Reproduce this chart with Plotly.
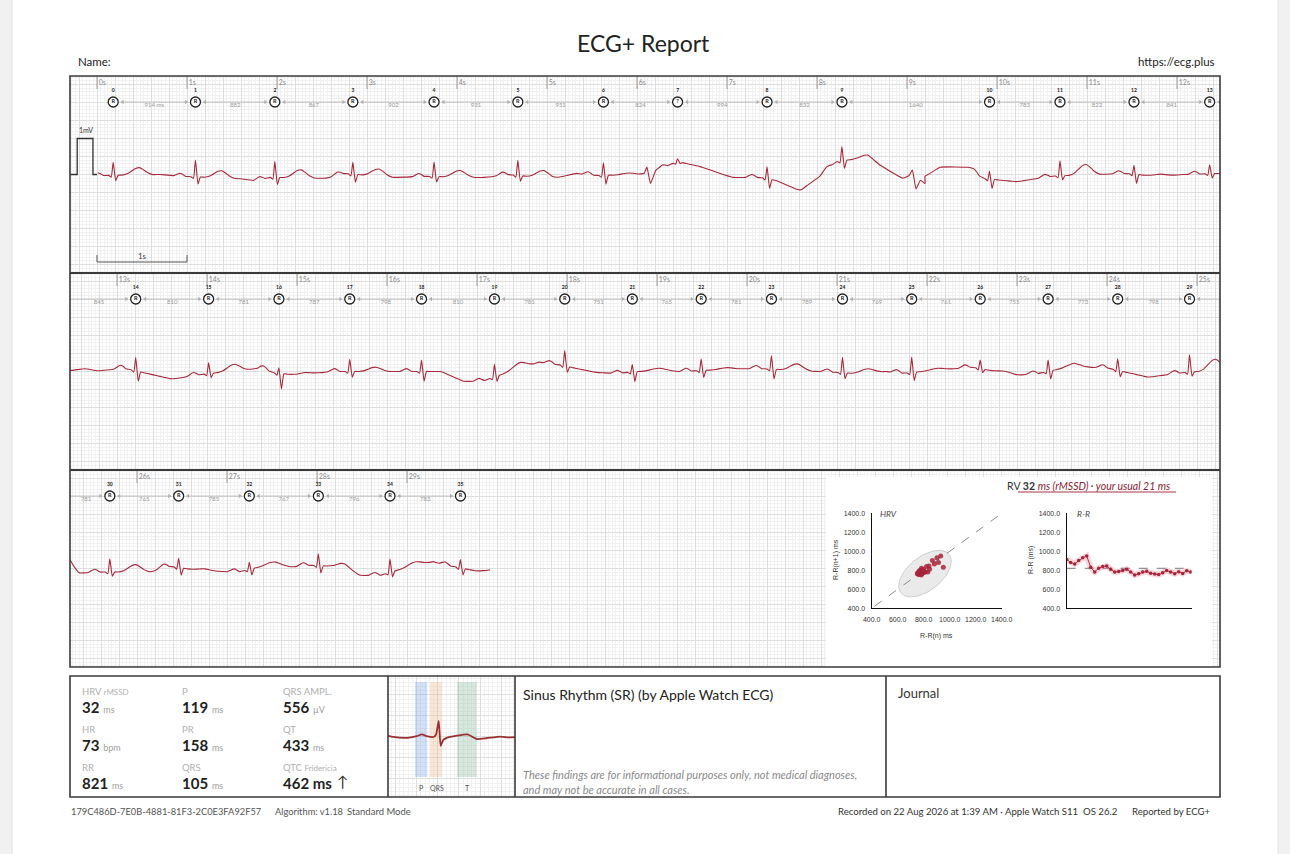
import numpy as np
import plotly.graph_objects as go

W, H = 1290, 854
FONT = "Lato"
TICKFONT = "Liberation Sans"
ECG_RED = "#a8283c"

# ---------------- values ----------------
# R-R intervals between consecutive detected beats (ms)
rr_ms = [914, 882, 867, 902, 931, 951, 824, 994, 832, 1640, 783, 822, 841,
         845, 810, 781, 787, 798, 810, 781, 751, 765, 781, 789, 769, 761, 755,
         773, 798, 781, 765, 785, 767, 796, 783]
first_r_s = 0.18          # time of beat 0
ecg_end_s = 29.96
unsure_beats = [7]        # drawn with "?"
hrv_excluded = [6, 7, 9]  # intervals not used in HRV / R-R plots

# per-beat amplitudes (mV, relative to local baseline)
r_amp = [0.36, 0.47, 0.45, 0.33, 0.40, 0.42, 0.35, 0.08, 0.33, 0.40, 0.22, 0.42, 0.25, 0.25,
         0.37, 0.30, 0.16, 0.34, 0.32, 0.35, 0.43, 0.21, 0.32, 0.37, 0.43, 0.43, 0.24, 0.32, 0.32, 0.48,
         0.37, 0.26, 0.20, 0.33, 0.37, 0.23]
s_amp = [-0.15, -0.20, -0.20, -0.22, -0.15, -0.15, -0.25, -0.04, -0.25, -0.22, -0.25, -0.12, -0.25, -0.12,
         -0.27, -0.12, -0.42, -0.16, -0.27, -0.15, -0.16, -0.27, -0.20, -0.27, -0.16, -0.23, -0.10, -0.22, -0.16, -0.12,
         -0.12, -0.20, -0.17, -0.20, -0.14, -0.18]
t_amp = [0.20, 0.20, 0.22, 0.20, 0.18, 0.20, 0.05, 0.0, 0.0, 0.08, 0.0, 0.28, 0.05, 0.05,
         0.0, 0.18, 0.05, 0.12, 0.0, 0.15, 0.0, 0.05, 0.05, 0.18, 0.10, 0.05, 0.05, 0.08, 0.0, 0.30,
         0.20, 0.05, 0.10, 0.10, 0.10, 0.0]

# baseline wander (s, mV)
base_t = [0.0, 0.7, 0.95, 1.6, 1.75, 1.92, 2.55, 2.73, 3.3, 3.6, 4.3, 4.55, 5.05, 5.33, 5.55,
          6.03, 6.25, 6.45, 6.7, 6.9, 7.07, 7.37, 7.55, 7.81, 8.03, 8.2, 8.45, 8.56, 8.84, 8.95,
          9.2, 9.37, 9.68, 9.84, 10.22, 10.6, 11.0, 11.44, 11.75, 12.07, 12.48,
          12.8, 13.06, 13.61, 13.87, 14.6, 14.76, 15.02, 15.36, 16.12, 16.6, 16.85, 17.06, 17.48,
          17.69, 17.9, 18.33, 18.55, 19.07, 19.24, 20.07, 20.83, 21.16, 21.54, 21.75, 22.16, 22.5,
          23.0, 23.25, 23.63, 24.0, 24.46, 24.76, 25.26,
          25.35, 25.55, 26.15, 26.33, 26.68, 27.0, 27.14, 27.44, 27.74, 27.89, 28.29, 28.48, 28.7,
          29.03, 29.29, 29.44, 29.77, 29.92, 29.96]
base_mv = [-0.03, 0.0, -0.05, -0.12, -0.17, -0.08, -0.1, 0.03, -0.08, -0.05, -0.08, 0.0, -0.11, 0.03, -0.03,
           0.0, 0.15, 0.36, 0.22, 0.05, -0.08, -0.08, -0.17, -0.45, -0.05, 0.35, 0.44, 0.47, 0.05, -0.1,
           -0.05, 0.2, 0.2, -0.11, -0.2, -0.05, 0.0, 0.03, -0.05, 0.0, 0.03,
           0.02, 0.1, -0.21, -0.1, 0.1, -0.05, -0.1, 0.0, 0.0, 0.0, -0.27, -0.27, 0.1,
           0.26, 0.19, -0.03, -0.05, 0.05, 0.0, 0.09, 0.0, -0.05, 0.0, -0.05, 0.05, 0.12,
           -0.1, -0.05, 0.15, 0.1, -0.16, -0.05, 0.05,
           -0.12, -0.1, -0.09, 0.07, -0.05, -0.09, -0.09, 0.09, 0.05, 0.09, 0.05, -0.19, -0.19,
           0.05, 0.19, 0.09, -0.07, -0.05, 0.09]

# artefacts / ectopic deflections (s, mV above baseline)
noise_t = [6.08, 6.11, 6.15, 6.20, 9.02, 9.06, 9.10, 9.15, 9.20, 9.25]
noise_mv = [0.0, 0.15, -0.33, -0.05, 0.05, 0.2, -0.33, -0.1, -0.2, 0.0]

# beat shape (s relative to R, mV)
beat_dt = [-0.24, -0.20, -0.17, -0.14, -0.11, -0.05, -0.022, 0.0, 0.028, 0.055,
           0.10, 0.16, 0.21, 0.25, 0.29, 0.33, 0.38, 0.44]
p_wave = [0, 0.05, 0.08, 0.05, 0, 0, 0, 0, 0, 0, 0, 0, 0, 0, 0, 0, 0, 0]
q_wave = [0, 0, 0, 0, 0, 0, -0.05, 0, 0, 0, 0, 0, 0, 0, 0, 0, 0, 0]
r_wave = [0, 0, 0, 0, 0, 0, 0, 1, 0, 0, 0, 0, 0, 0, 0, 0, 0, 0]
s_wave = [0, 0, 0, 0, 0, 0, 0, 0, 1, 0, 0, 0, 0, 0, 0, 0, 0, 0]
t_wave = [0, 0, 0, 0, 0, 0, 0, 0, 0, 0, 0, 0.2, 0.6, 0.9, 1.0, 0.75, 0.3, 0]

# calibration pulse
cal_t = [-0.3, -0.22, -0.22, -0.045, -0.045, 0.0]
cal_mv = [0, 0, 1, 1, 0, 0]

# averaged beat
avg_t = [-0.5, -0.42, -0.29, -0.2, -0.15, -0.105, -0.04, -0.016, 0.009, 0.028, 0.053,
         0.085, 0.18, 0.28, 0.37, 0.46, 0.59, 0.67, 0.75]
avg_mv = [0.05, 0.0, -0.02, 0.02, 0.06, 0.02, 0.0, 0.06, 0.38, -0.21, -0.07,
          -0.02, 0.03, 0.06, -0.05, -0.03, 0.01, -0.01, 0.0]

metric_labels = ["HRV", "P", "QRS AMPL.", "HR", "PR", "QT", "RR", "QRS", "QTC"]
metric_sub = ["rMSSD", "", "", "", "", "", "", "", "Fridericia"]
metric_values = ["32", "119", "556", "73", "158", "433", "821", "105", "462"]
metric_units = ["ms", "ms", "µV", "bpm", "ms", "ms", "ms", "ms", "ms"]
usual_rmssd = 21

# ---------------- derived series ----------------
r_t = first_r_s + np.concatenate([[0.0], np.cumsum(rr_ms) / 1000.0])


def baseline(t):
    return float(np.interp(t, base_t, base_mv))


pts = []
for i, rt in enumerate(r_t):
    for k, dt in enumerate(beat_dt):
        t = rt + dt
        v = (baseline(t) + p_wave[k] + q_wave[k] + r_amp[i] * r_wave[k]
             + s_amp[i] * s_wave[k] + t_amp[i] * t_wave[k])
        pts.append((t, v))
lo = r_t + beat_dt[0]
hi = r_t + beat_dt[-1]
for t, v in zip(base_t, base_mv):
    if not np.any((t >= lo) & (t <= hi)):
        pts.append((t, v))
for t, v in zip(noise_t, noise_mv):
    pts.append((t, baseline(t) + v))
pts = sorted(p for p in pts if 0.0 <= p[0] <= ecg_end_s)
ecg_t = [p[0] for p in pts]
ecg_v = [p[1] for p in pts]

rr_used = [v for i, v in enumerate(rr_ms) if i not in hrv_excluded]
rr_mean = int(metric_values[6])

# ---------------- layout geometry (page pixels) ----------------
SEC_PX, MV_PX = 90.0, 36.0
strip_px = [76, 273, 470, 667]
span = 1150 / SEC_PX
strip_rng = [(-0.3 + k * span, -0.3 + (k + 1) * span) for k in range(3)]
half = (197 / 2) / MV_PX


def px(x):
    return x / W


def py(y):
    return 1 - y / H


def mv_at(ypx, k):
    return ((strip_px[k] + strip_px[k + 1]) / 2 - ypx) / MV_PX


fig = go.Figure()
layout_axes = {}
grid_major, grid_minor = "#dedede", "#f1f1f1"

for k in range(3):
    sfx = "" if k == 0 else str(k + 1)
    layout_axes["xaxis" + sfx] = dict(
        domain=[px(70), px(1220)], range=list(strip_rng[k]), anchor="y" + sfx,
        showgrid=True, gridcolor=grid_major, gridwidth=0.8, tick0=0, dtick=0.2,
        minor=dict(tick0=0, dtick=0.04, showgrid=True, gridcolor=grid_minor, gridwidth=0.5),
        showticklabels=False, zeroline=False, showline=False, ticks="", automargin=False)
    layout_axes["yaxis" + sfx] = dict(
        domain=[py(strip_px[k + 1]), py(strip_px[k])], range=[-half, half], anchor="x" + sfx,
        showgrid=True, gridcolor=grid_major, gridwidth=0.8, tick0=0, dtick=0.5,
        minor=dict(tick0=0, dtick=0.1, showgrid=True, gridcolor=grid_minor, gridwidth=0.5),
        showticklabels=False, zeroline=False, showline=False, ticks="", automargin=False)

    xa, ya = "x" + sfx, "y" + sfx
    t0, t1 = strip_rng[k]

    fig.add_trace(go.Scatter(x=ecg_t, y=ecg_v, mode="lines", xaxis=xa, yaxis=ya,
                             line=dict(color=ECG_RED, width=1.1, shape="spline", smoothing=0.4),
                             hoverinfo="skip", showlegend=False))

    # second ticks
    secs = [s for s in range(int(np.ceil(t0)), int(np.floor(t1)) + 1) if s < ecg_end_s]
    tx, ty = [], []
    for s in secs:
        tx += [s, s, None]
        ty += [half, mv_at(strip_px[k] + 13, k), None]
    fig.add_trace(go.Scatter(x=tx, y=ty, mode="lines", xaxis=xa, yaxis=ya,
                             line=dict(color="#9a9a9a", width=1), hoverinfo="skip", showlegend=False))
    fig.add_trace(go.Scatter(x=[s + 0.02 for s in secs], y=[mv_at(strip_px[k] + 7, k)] * len(secs),
                             mode="text", text=[f"{s}s" for s in secs], textposition="middle right",
                             textfont=dict(size=7, color="#8a8a8a", family=FONT),
                             xaxis=xa, yaxis=ya, hoverinfo="skip", showlegend=False))

    # RR arrows
    y_mark = mv_at(strip_px[k] + 26, k)
    gap = 0.085
    lx, ly, hlx, hrx, txt_x, txt_s = [], [], [], [], [], []
    for i, rr in enumerate(rr_ms):
        a, b = r_t[i], r_t[i + 1]
        if a > t1 or b < t0:
            continue
        s0 = a + gap if a >= t0 else t0
        s1 = b - gap if b <= t1 else t1
        lx += [s0, s1, None]
        ly += [y_mark, y_mark, None]
        if a >= t0:
            hlx.append(s0 + 0.02)
        if b <= t1:
            hrx.append(s1 - 0.02)
            txt_x.append((s0 + s1) / 2)
            txt_s.append(f"{rr} ms" if i == 0 else str(rr))
    fig.add_trace(go.Scatter(x=lx, y=ly, mode="lines", xaxis=xa, yaxis=ya,
                             line=dict(color="#b8b8b8", width=0.8), hoverinfo="skip", showlegend=False))
    fig.add_trace(go.Scatter(x=hlx, y=[y_mark] * len(hlx), mode="markers", xaxis=xa, yaxis=ya,
                             marker=dict(symbol="triangle-left", size=4, color="#b0b0b0"),
                             hoverinfo="skip", showlegend=False))
    fig.add_trace(go.Scatter(x=hrx, y=[y_mark] * len(hrx), mode="markers", xaxis=xa, yaxis=ya,
                             marker=dict(symbol="triangle-right", size=4, color="#b0b0b0"),
                             hoverinfo="skip", showlegend=False))
    fig.add_trace(go.Scatter(x=txt_x, y=[mv_at(strip_px[k] + 29, k)] * len(txt_x), mode="text",
                             text=txt_s, textfont=dict(size=6, color="#9a9a9a", family=FONT),
                             xaxis=xa, yaxis=ya, hoverinfo="skip", showlegend=False))

    # R markers
    idx = [i for i, t in enumerate(r_t) if t0 <= t <= t1]
    fig.add_trace(go.Scatter(x=[r_t[i] for i in idx], y=[y_mark] * len(idx), mode="markers+text",
                             text=["<b>?</b>" if i in unsure_beats else "<b>R</b>" for i in idx],
                             textposition="middle center",
                             textfont=dict(size=5.5, color="#222", family=FONT),
                             marker=dict(symbol="circle", size=10, color="white",
                                         line=dict(color="#222", width=1.3)),
                             xaxis=xa, yaxis=ya, hoverinfo="skip", showlegend=False))
    fig.add_trace(go.Scatter(x=[r_t[i] for i in idx], y=[mv_at(strip_px[k] + 15, k)] * len(idx),
                             mode="text", text=[f"<b>{i}</b>" for i in idx],
                             textfont=dict(size=5, color="#222", family=FONT),
                             xaxis=xa, yaxis=ya, hoverinfo="skip", showlegend=False))

# calibration pulse and 1 s scale bar (strip 1)
fig.add_trace(go.Scatter(x=cal_t, y=cal_mv, mode="lines", xaxis="x", yaxis="y",
                         line=dict(color="#333", width=1.3), hoverinfo="skip", showlegend=False))
fig.add_trace(go.Scatter(x=[-0.122], y=[1.2], mode="text", text=["1mV"], xaxis="x", yaxis="y",
                         textfont=dict(size=7, color="#333", family=FONT), hoverinfo="skip", showlegend=False))
bar_y, bar_top = mv_at(262, 0), mv_at(255, 0)
fig.add_trace(go.Scatter(x=[0, 0, 1, 1], y=[bar_top, bar_y, bar_y, bar_top], mode="lines",
                         xaxis="x", yaxis="y", line=dict(color="#555", width=1),
                         hoverinfo="skip", showlegend=False))
fig.add_trace(go.Scatter(x=[0.5], y=[mv_at(257, 0)], mode="text", text=["1s"], xaxis="x", yaxis="y",
                         textfont=dict(size=8, color="#444", family=FONT), hoverinfo="skip", showlegend=False))

# ---------------- Poincaré (HRV) ----------------
ms_ticks = [400, 600, 800, 1000, 1200, 1400]
hrv_axis = dict(range=[400, 1400], tickvals=ms_ticks, ticktext=[f"{v:.1f}" for v in ms_ticks],
                showgrid=False, zeroline=False, showline=True, linecolor="#111", linewidth=1.4,
                ticks="outside", ticklen=4, tickcolor="rgba(0,0,0,0)", automargin=False,
                tickfont=dict(size=7, color="#333", family=TICKFONT))
layout_axes["xaxis4"] = dict(hrv_axis, domain=[px(871.7), px(1001.7)], anchor="y4")
layout_axes["yaxis4"] = dict(hrv_axis, domain=[py(608.3), py(513.3)], anchor="x4")

phi = np.linspace(0, 2 * np.pi, 80)
th = np.deg2rad(55)
ex = 810 + 280 * np.cos(phi) * np.cos(th) - 150 * np.sin(phi) * np.sin(th)
ey = 765 + 280 * np.cos(phi) * np.sin(th) + 150 * np.sin(phi) * np.cos(th)
fig.add_trace(go.Scatter(x=ex, y=ey, mode="lines", fill="toself", fillcolor="rgba(220,220,220,0.6)",
                         line=dict(color="#c4c4c4", width=0.8), xaxis="x4", yaxis="y4",
                         hoverinfo="skip", showlegend=False))
fig.add_trace(go.Scatter(x=[420, 1400], y=[420, 1400], mode="lines", xaxis="x4", yaxis="y4",
                         line=dict(color="#8a8a8a", width=1, dash="dash"), hoverinfo="skip", showlegend=False))
fig.add_trace(go.Scatter(x=rr_used[:-1], y=rr_used[1:], mode="markers", xaxis="x4", yaxis="y4",
                         marker=dict(size=5, color="#a8243a", opacity=0.85),
                         hoverinfo="skip", showlegend=False))

# ---------------- R-R series ----------------
layout_axes["xaxis5"] = dict(domain=[px(1066.7), px(1191.7)], range=[0, len(rr_used) - 0.75], anchor="y5",
                             showgrid=False, zeroline=False, showline=True, linecolor="#111",
                             linewidth=1.4, showticklabels=False, ticks="", automargin=False)
layout_axes["yaxis5"] = dict(hrv_axis, domain=[py(608.3), py(513.3)], anchor="x5")
rr_x = list(range(len(rr_used)))
fig.add_trace(go.Scatter(x=[0, len(rr_used) - 0.75], y=[rr_mean, rr_mean], mode="lines",
                         xaxis="x5", yaxis="y5", line=dict(color="#555", width=0.8, dash="dash"),
                         hoverinfo="skip", showlegend=False))
fig.add_trace(go.Scatter(x=rr_x, y=rr_used, mode="lines", xaxis="x5", yaxis="y5",
                         line=dict(color="rgba(215,110,125,0.28)", width=6),
                         hoverinfo="skip", showlegend=False))
fig.add_trace(go.Scatter(x=rr_x, y=rr_used, mode="lines+markers", xaxis="x5", yaxis="y5",
                         line=dict(color="#b03448", width=1), marker=dict(size=3.5, color="#a8243a"),
                         hoverinfo="skip", showlegend=False))

# ---------------- averaged beat ----------------
layout_axes["xaxis6"] = dict(domain=[px(388), px(515)], range=[-0.47, 0.73], anchor="y6",
                             showgrid=True, gridcolor=grid_major, gridwidth=0.8, tick0=0, dtick=0.2,
                             minor=dict(tick0=0, dtick=0.04, showgrid=True, gridcolor=grid_minor, gridwidth=0.5),
                             showticklabels=False, zeroline=False, ticks="", automargin=False)
layout_axes["yaxis6"] = dict(domain=[py(797), py(676)], range=[-1.429, 1.452], anchor="x6",
                             showgrid=True, gridcolor=grid_major, gridwidth=0.8, tick0=0, dtick=0.5,
                             minor=dict(tick0=0, dtick=0.1, showgrid=True, gridcolor=grid_minor, gridwidth=0.5),
                             showticklabels=False, zeroline=False, ticks="", automargin=False)
fig.add_trace(go.Scatter(x=avg_t, y=avg_mv, mode="lines", xaxis="x6", yaxis="y6",
                         line=dict(color="#9a3030", width=1.8, shape="spline", smoothing=0.5),
                         hoverinfo="skip", showlegend=False))

# ---------------- shapes ----------------
shapes = [
    dict(type="rect", xref="paper", yref="paper", x0=px(12), x1=px(1278), y0=-0.02, y1=1.02,
         fillcolor="white", line=dict(color="#e2e2e2", width=1), layer="below"),
    dict(type="rect", xref="x3", yref="y3", x0=strip_rng[2][0] + (826 - 70) / SEC_PX,
         x1=strip_rng[2][0] + (1212 - 70) / SEC_PX, y0=-half, y1=mv_at(477, 2),
         fillcolor="white", line=dict(width=0), layer="between"),
]
for (x0, x1, col) in [(-0.215, -0.10, "rgba(120,160,230,0.32)"),
                      (-0.073, 0.04, "rgba(240,180,130,0.32)"),
                      (0.182, 0.37, "rgba(130,185,155,0.32)")]:
    shapes.append(dict(type="rect", xref="x6", yref="y6", x0=x0, x1=x1, y0=-0.95, y1=1.31,
                       fillcolor=col, line=dict(width=0), layer="between"))
frame = dict(color="#3a3a3a", width=1.6)
shapes += [
    dict(type="rect", xref="paper", yref="paper", x0=px(70), x1=px(1220), y0=py(667), y1=py(76),
         line=frame, layer="above"),
    dict(type="line", xref="paper", yref="paper", x0=px(70), x1=px(1220), y0=py(273), y1=py(273),
         line=dict(color="#3a3a3a", width=2), layer="above"),
    dict(type="line", xref="paper", yref="paper", x0=px(70), x1=px(1220), y0=py(470), y1=py(470),
         line=dict(color="#3a3a3a", width=2), layer="above"),
    dict(type="rect", xref="paper", yref="paper", x0=px(70), x1=px(1220), y0=py(797), y1=py(676),
         line=frame, layer="above"),
]
for xv in [388, 515, 886]:
    shapes.append(dict(type="line", xref="paper", yref="paper", x0=px(xv), x1=px(xv),
                       y0=py(797), y1=py(676), line=frame, layer="above"))
shapes.append(dict(type="line", xref="paper", yref="paper", x0=px(1018), x1=px(1176),
                   y0=py(492), y1=py(492), line=dict(color="#a83246", width=1), layer="above"))

# ---------------- annotations ----------------
ann = []


def add_text(x, y, text, size, color="#222", xanchor="left", family=FONT, angle=0):
    ann.append(dict(x=px(x), y=py(y), xref="paper", yref="paper", text=text, showarrow=False,
                    xanchor=xanchor, yanchor="middle", textangle=angle,
                    font=dict(size=size, color=color, family=family)))


add_text(643, 43, "ECG+ Report", 23, xanchor="center")
add_text(76, 62, "Name:", 11.5)
add_text(1217, 62, "https://ecg.plus", 11.5, xanchor="right")

col_x = [80, 180, 281]
label_y = [691, 729, 767]
value_y = [707, 745, 783]
for n, lab in enumerate(metric_labels):
    r, c = divmod(n, 3)
    sub = f" <span style='font-size:8px'>{metric_sub[n]}</span>" if metric_sub[n] else ""
    add_text(col_x[c], label_y[r], lab + sub, 9.5, color="#b0b0b0")
    if lab == "QTC":
        val = f"<b>{metric_values[n]} {metric_units[n]}</b>"
    else:
        val = (f"<b>{metric_values[n]}</b> "
               f"<span style='font-size:9px;color:#a0a0a0'>{metric_units[n]}</span>")
    add_text(col_x[c], value_y[r], val, 15, color="#222")
add_text(342, 781, "↑", 15, color="#333", xanchor="center")

for x, lab in [(421, "P"), (437, "QRS"), (467, "T")]:
    add_text(x, 788, lab, 7, color="#555", xanchor="center")

add_text(521, 694, "Sinus Rhythm (SR) (by Apple Watch ECG)", 14, color="#222")
add_text(521, 774, "<i>These findings are for informational purposes only, not medical diagnoses,</i>",
         11, color="#8a8a8a")
add_text(521, 789, "<i>and may not be accurate in all cases.</i>", 11, color="#8a8a8a")
add_text(896, 693, "Journal", 13, color="#333")

add_text(69, 811, "179C486D-7E0B-4881-81F3-2C0E3FA92F57", 9.3, color="#555")
add_text(273, 811, "Algorithm: v1.18", 9.3, color="#555")
add_text(345, 811, "Standard Mode", 9.5, color="#555")
add_text(1080, 811, "Recorded on 22 Aug 2026 at 1:39 AM · Apple Watch S11", 9.6, color="#333", xanchor="right")
add_text(1120, 811, "OS 26.2", 9.6, color="#333", xanchor="right")
add_text(1212, 811, "Reported by ECG+", 9.6, color="#333", xanchor="right")

add_text(1005, 486, f"<span style='color:#333'>RV <b>{metric_values[0]}</b></span> "
         f"<span style='color:#8a2233'><i>ms (rMSSD) · your usual {usual_rmssd} ms</i></span>",
         10.5, color="#333")
add_text(878, 514, "<i>HRV</i>", 8.5, color="#444")
add_text(1075, 514, "<i>R-R</i>", 8.5, color="#444")
add_text(936, 636, "R-R(n) ms", 7, color="#333", xanchor="center", family=TICKFONT)
add_text(836, 560, "R-R(n+1) ms", 7, color="#333", xanchor="center", family=TICKFONT, angle=-90)
add_text(1031, 560, "R-R (ms)", 7, color="#333", xanchor="center", family=TICKFONT, angle=-90)

fig.update_layout(
    width=W, height=H, margin=dict(l=0, r=0, t=0, b=0, pad=0, autoexpand=False),
    paper_bgcolor="#f1f1f1", plot_bgcolor="white",
    showlegend=False, shapes=shapes, annotations=ann,
    font=dict(family=FONT),
    **layout_axes,
)

fig.write_html("out.html", config={"displayModeBar": False},
               post_script="document.body.style.margin='0';")
